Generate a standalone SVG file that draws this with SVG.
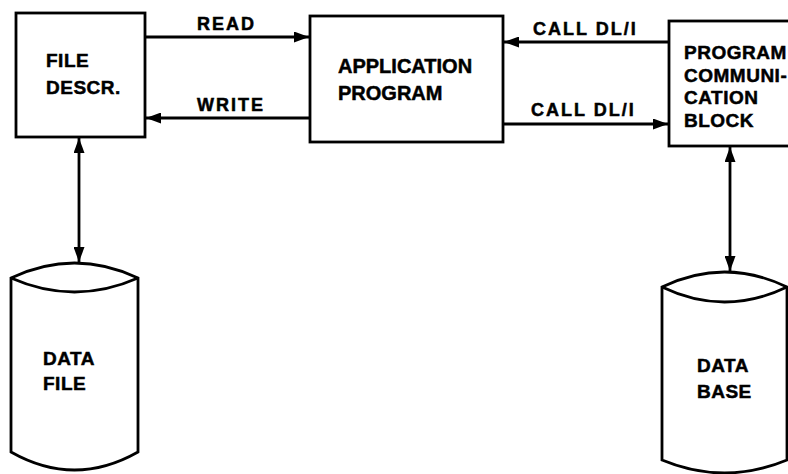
<svg xmlns="http://www.w3.org/2000/svg" width="788" height="474" viewBox="0 0 788 474">
<defs>
<style>
.box{fill:#fff;stroke:#000;stroke-width:2.8}
.ln{fill:none;stroke:#000;stroke-width:2.8}
.t{font-family:"Liberation Sans",Arial,sans-serif;font-weight:bold;fill:#000;stroke:#000;stroke-width:0.5}
.lbl{font-size:18px;letter-spacing:2px}
.nd{font-size:19px;letter-spacing:0.5px}
</style>
<marker id="ah" viewBox="0 0 15 11" refX="15" refY="5.5" markerWidth="15" markerHeight="11" markerUnits="userSpaceOnUse" orient="auto-start-reverse">
<path d="M0,0 L15,5.5 L0,11 Z" fill="#000"/>
</marker>
</defs>
<rect width="788" height="474" fill="#fff"/>
<g id="connectors">
<line class="ln" x1="145" y1="37" x2="309" y2="37" marker-end="url(#ah)"/>
<line class="ln" x1="310" y1="118" x2="146" y2="118" marker-end="url(#ah)"/>
<line class="ln" x1="669" y1="42" x2="504" y2="42" marker-end="url(#ah)"/>
<line class="ln" x1="503" y1="124" x2="668" y2="124" marker-end="url(#ah)"/>
<line class="ln" x1="79" y1="138" x2="79" y2="262" marker-start="url(#ah)" marker-end="url(#ah)"/>
<line class="ln" x1="730" y1="147" x2="730" y2="271" marker-start="url(#ah)" marker-end="url(#ah)"/>
<text class="t lbl" x="197" y="30">READ</text>
<text class="t lbl" x="197" y="111">WRITE</text>
<text class="t lbl" x="533" y="35">CALL DL/I</text>
<text class="t lbl" x="531" y="116">CALL DL/I</text>
</g>
<g id="file-descr">
<rect class="box" x="16" y="13" width="129" height="124"/>
<text class="t nd" x="46" y="67">FILE</text>
<text class="t nd" x="46" y="94">DESCR.</text>
</g>
<g id="application-program">
<rect class="box" x="310" y="16" width="193" height="126"/>
<text class="t" font-size="20" x="338" y="73">APPLICATION</text>
<text class="t" font-size="20" x="338" y="100">PROGRAM</text>
</g>
<g id="pcb">
<rect class="box" x="669" y="21" width="130" height="125"/>
<text class="t nd" x="684" y="59">PROGRAM</text>
<text class="t nd" x="684" y="82">COMMUNI-</text>
<text class="t nd" x="684" y="104">CATION</text>
<text class="t nd" x="684" y="127">BLOCK</text>
</g>
<g id="data-file">
<path class="box" d="M11,278 Q74.5,248 138,278 L138,452 Q74.5,488 11,452 Z"/>
<path class="ln" d="M11,278 Q74.5,306 138,278"/>
<text class="t nd" x="43" y="365">DATA</text>
<text class="t nd" x="43" y="390">FILE</text>
</g>
<g id="data-base">
<path class="box" d="M662,287 Q724.5,257 787,287 L787,460 Q724.5,486 662,460 Z"/>
<path class="ln" d="M662,287 Q724.5,317 787,287"/>
<text class="t nd" x="697" y="372">DATA</text>
<text class="t nd" x="697" y="398">BASE</text>
</g>
</svg>
